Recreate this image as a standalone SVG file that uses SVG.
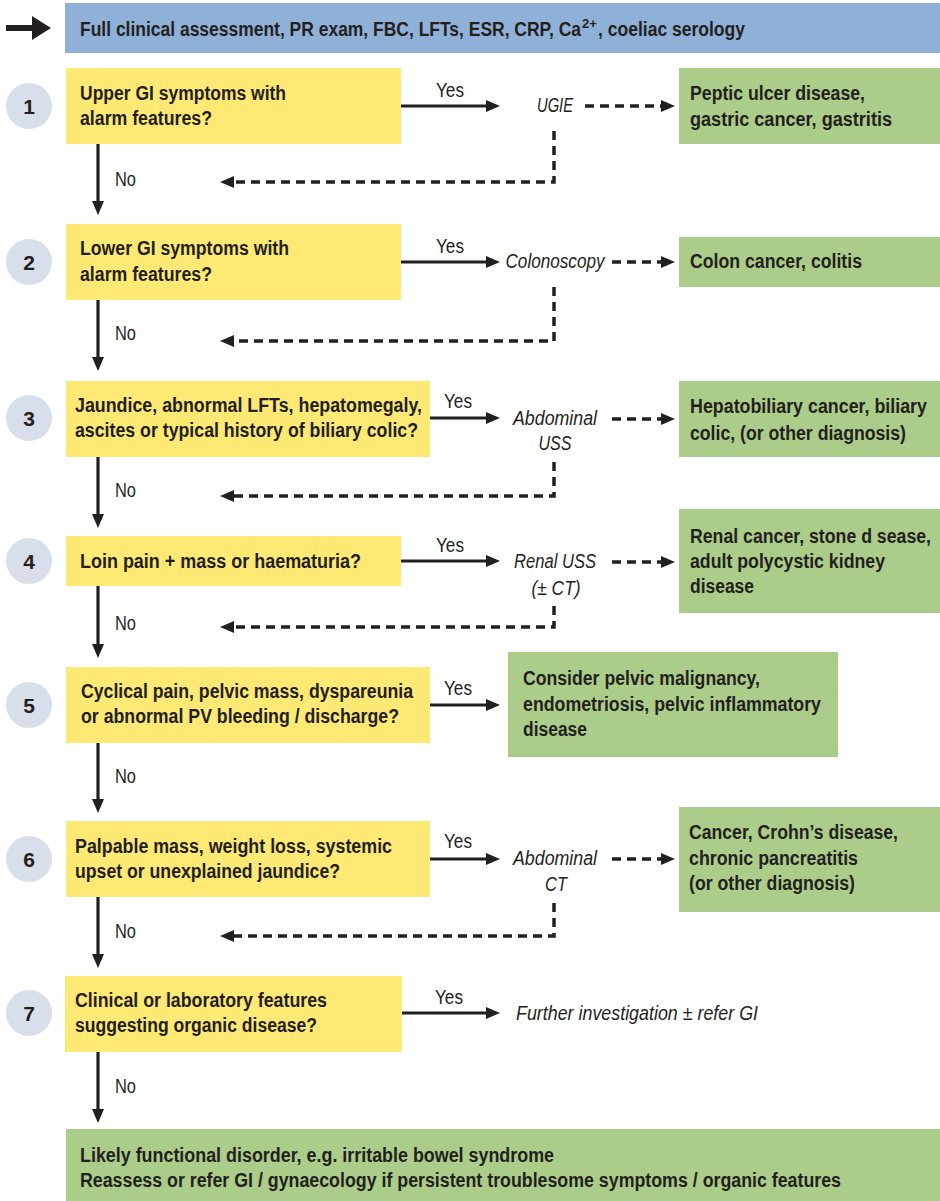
<svg xmlns="http://www.w3.org/2000/svg" width="940" height="1201" viewBox="0 0 940 1201">
<style>
.t{font-family:"Liberation Sans",Arial,sans-serif;font-size:20px;fill:#231f20}
.b{font-weight:bold}
.i{font-style:italic}
.m{text-anchor:middle}
.sup{font-family:"Liberation Sans",Arial,sans-serif;font-weight:bold;font-size:13px;fill:#231f20}
.num{font-family:"Liberation Sans",Arial,sans-serif;font-weight:bold;font-size:21px;fill:#231f20;text-anchor:middle}
.q{fill:#fee975}
.g{fill:#abcd89}
.c{fill:#d8dfeb}
.ln{fill:none;stroke:#231f20;stroke-width:3.2}
.ds{fill:none;stroke:#231f20;stroke-width:3.5;stroke-dasharray:9 6}
</style>
<defs>
<marker id="ah" markerUnits="userSpaceOnUse" markerWidth="14" markerHeight="14" viewBox="0 0 14 14" refX="6" refY="7" orient="auto">
<path d="M0,1 L14,7 L0,13 z" fill="#231f20"/>
</marker>
</defs>
<g id="start">
<rect x="65" y="3" width="875" height="50" fill="#8fb1d8"/>
<path d="M6,25 H32 V16 L51,28 L32,40 V31 H6 z" fill="#231f20"/>
<text class="t b" x="80" y="36" textLength="501" lengthAdjust="spacingAndGlyphs">Full clinical assessment, PR exam, FBC, LFTs, ESR, CRP, Ca</text>
<text class="sup" x="582" y="28" textLength="15" lengthAdjust="spacingAndGlyphs">2+</text>
<text class="t b" x="598" y="36" textLength="147" lengthAdjust="spacingAndGlyphs">, coeliac serology</text>
</g>
<g id="q1">
<circle class="c" cx="29" cy="106" r="23"/><text class="num" x="29" y="114">1</text>
<rect class="q" x="66" y="68" width="335" height="76"/>
<text class="t b" x="80" y="100" textLength="206" lengthAdjust="spacingAndGlyphs">Upper GI symptoms with</text>
<text class="t b" x="80" y="125" textLength="132" lengthAdjust="spacingAndGlyphs">alarm features?</text>
</g>
<g id="r1">
<rect class="g" x="679" y="68" width="261" height="76"/>
<text class="t b" x="690" y="100" textLength="175" lengthAdjust="spacingAndGlyphs">Peptic ulcer disease,</text>
<text class="t b" x="690" y="126" textLength="202" lengthAdjust="spacingAndGlyphs">gastric cancer, gastritis</text>
</g>
<g id="q2">
<circle class="c" cx="29" cy="262" r="23"/><text class="num" x="29" y="270">2</text>
<rect class="q" x="66" y="224" width="335" height="76"/>
<text class="t b" x="80" y="255" textLength="209" lengthAdjust="spacingAndGlyphs">Lower GI symptoms with</text>
<text class="t b" x="80" y="281" textLength="132" lengthAdjust="spacingAndGlyphs">alarm features?</text>
</g>
<g id="r2">
<rect class="g" x="679" y="237" width="261" height="50"/>
<text class="t b" x="690" y="268" textLength="172" lengthAdjust="spacingAndGlyphs">Colon cancer, colitis</text>
</g>
<g id="q3">
<circle class="c" cx="29" cy="418" r="23"/><text class="num" x="29" y="426">3</text>
<rect class="q" x="66" y="381" width="364" height="76"/>
<text class="t b" x="75" y="412" textLength="347" lengthAdjust="spacingAndGlyphs">Jaundice, abnormal LFTs, hepatomegaly,</text>
<text class="t b" x="75" y="437" textLength="343" lengthAdjust="spacingAndGlyphs">ascites or typical history of biliary colic?</text>
</g>
<g id="r3">
<rect class="g" x="679" y="381" width="261" height="76"/>
<text class="t b" x="690" y="413" textLength="237" lengthAdjust="spacingAndGlyphs">Hepatobiliary cancer, biliary</text>
<text class="t b" x="690" y="440" textLength="216" lengthAdjust="spacingAndGlyphs">colic, (or other diagnosis)</text>
</g>
<g id="q4">
<circle class="c" cx="29" cy="561" r="23"/><text class="num" x="29" y="569">4</text>
<rect class="q" x="66" y="536" width="335" height="50"/>
<text class="t b" x="80" y="568" textLength="281" lengthAdjust="spacingAndGlyphs">Loin pain + mass or haematuria?</text>
</g>
<g id="r4">
<rect class="g" x="679" y="509" width="261" height="104"/>
<text class="t b" x="690" y="543" textLength="241" lengthAdjust="spacingAndGlyphs">Renal cancer, stone d sease,</text>
<text class="t b" x="690" y="568" textLength="195" lengthAdjust="spacingAndGlyphs">adult polycystic kidney</text>
<text class="t b" x="690" y="593" textLength="64" lengthAdjust="spacingAndGlyphs">disease</text>
</g>
<g id="q5">
<circle class="c" cx="29" cy="705" r="23"/><text class="num" x="29" y="713">5</text>
<rect class="q" x="66" y="667" width="364" height="76"/>
<text class="t b" x="81" y="698" textLength="332" lengthAdjust="spacingAndGlyphs">Cyclical pain, pelvic mass, dyspareunia</text>
<text class="t b" x="81" y="723" textLength="318" lengthAdjust="spacingAndGlyphs">or abnormal PV bleeding / discharge?</text>
</g>
<g id="r5">
<rect class="g" x="508" y="652" width="330" height="105"/>
<text class="t b" x="523" y="685" textLength="237" lengthAdjust="spacingAndGlyphs">Consider pelvic malignancy,</text>
<text class="t b" x="523" y="711" textLength="298" lengthAdjust="spacingAndGlyphs">endometriosis, pelvic inflammatory</text>
<text class="t b" x="523" y="736" textLength="64" lengthAdjust="spacingAndGlyphs">disease</text>
</g>
<g id="q6">
<circle class="c" cx="29" cy="859" r="23"/><text class="num" x="29" y="867">6</text>
<rect class="q" x="66" y="821" width="364" height="76"/>
<text class="t b" x="75" y="853" textLength="317" lengthAdjust="spacingAndGlyphs">Palpable mass, weight loss, systemic</text>
<text class="t b" x="75" y="878" textLength="265" lengthAdjust="spacingAndGlyphs">upset or unexplained jaundice?</text>
</g>
<g id="r6">
<rect class="g" x="679" y="807" width="261" height="105"/>
<text class="t b" x="689" y="839" textLength="209" lengthAdjust="spacingAndGlyphs">Cancer, Crohn’s disease,</text>
<text class="t b" x="689" y="865" textLength="169" lengthAdjust="spacingAndGlyphs">chronic pancreatitis</text>
<text class="t b" x="689" y="890" textLength="166" lengthAdjust="spacingAndGlyphs">(or other diagnosis)</text>
</g>
<g id="q7">
<circle class="c" cx="29" cy="1013" r="23"/><text class="num" x="29" y="1021">7</text>
<rect class="q" x="65" y="976" width="337" height="76"/>
<text class="t b" x="75" y="1007" textLength="252" lengthAdjust="spacingAndGlyphs">Clinical or laboratory features</text>
<text class="t b" x="75" y="1032" textLength="242" lengthAdjust="spacingAndGlyphs">suggesting organic disease?</text>
</g>
<g id="end">
<rect class="g" x="66" y="1129" width="874" height="72"/>
<text class="t b" x="80" y="1162" textLength="474" lengthAdjust="spacingAndGlyphs">Likely functional disorder, e.g. irritable bowel syndrome</text>
<text class="t b" x="80" y="1187" textLength="761" lengthAdjust="spacingAndGlyphs">Reassess or refer GI / gynaecology if persistent troublesome symptoms / organic features</text>
</g>
<g id="tests">
<text class="t i m" x="555" y="112" textLength="36" lengthAdjust="spacingAndGlyphs">UGIE</text>
<text class="t i m" x="555" y="268" textLength="99" lengthAdjust="spacingAndGlyphs">Colonoscopy</text>
<text class="t i m" x="555" y="425" textLength="84" lengthAdjust="spacingAndGlyphs">Abdominal</text>
<text class="t i m" x="555" y="450" textLength="33" lengthAdjust="spacingAndGlyphs">USS</text>
<text class="t i m" x="555" y="568" textLength="82" lengthAdjust="spacingAndGlyphs">Renal USS</text>
<text class="t i m" x="556" y="595" textLength="49" lengthAdjust="spacingAndGlyphs">(± CT)</text>
<text class="t i m" x="555" y="865" textLength="84" lengthAdjust="spacingAndGlyphs">Abdominal</text>
<text class="t i m" x="556" y="891" textLength="22" lengthAdjust="spacingAndGlyphs">CT</text>
<text class="t i" x="516" y="1020" textLength="242" lengthAdjust="spacingAndGlyphs">Further investigation ± refer GI</text>
</g>
<g id="connectors">
<path class="ln" d="M98,144 V207" marker-end="url(#ah)"/>
<path class="ln" d="M98,300 V363" marker-end="url(#ah)"/>
<path class="ln" d="M98,457 V520" marker-end="url(#ah)"/>
<path class="ln" d="M98,586 V650" marker-end="url(#ah)"/>
<path class="ln" d="M98,743 V805" marker-end="url(#ah)"/>
<path class="ln" d="M98,897 V960" marker-end="url(#ah)"/>
<path class="ln" d="M98,1052 V1115" marker-end="url(#ah)"/>
<path class="ln" d="M401,106 H492" marker-end="url(#ah)"/>
<path class="ln" d="M401,262 H492" marker-end="url(#ah)"/>
<path class="ln" d="M430,418 H492" marker-end="url(#ah)"/>
<path class="ln" d="M401,561 H492" marker-end="url(#ah)"/>
<path class="ln" d="M430,705 H492" marker-end="url(#ah)"/>
<path class="ln" d="M430,859 H492" marker-end="url(#ah)"/>
<path class="ln" d="M402,1013 H492" marker-end="url(#ah)"/>
<path class="ds" d="M585,106 H667" marker-end="url(#ah)"/>
<path class="ds" d="M612,262 H667" marker-end="url(#ah)"/>
<path class="ds" d="M612,419 H667" marker-end="url(#ah)"/>
<path class="ds" d="M612,562 H667" marker-end="url(#ah)"/>
<path class="ds" d="M612,859 H667" marker-end="url(#ah)"/>
<path class="ds" d="M554,131 V182 H228" marker-end="url(#ah)"/>
<path class="ds" d="M554,287 V341 H228" marker-end="url(#ah)"/>
<path class="ds" d="M554,462 V496 H228" marker-end="url(#ah)"/>
<path class="ds" d="M554,606 V627 H228" marker-end="url(#ah)"/>
<path class="ds" d="M554,903 V936 H228" marker-end="url(#ah)"/>
<text class="t m" x="450" y="97" textLength="28" lengthAdjust="spacingAndGlyphs">Yes</text>
<text class="t m" x="450" y="253" textLength="28" lengthAdjust="spacingAndGlyphs">Yes</text>
<text class="t m" x="458" y="408" textLength="28" lengthAdjust="spacingAndGlyphs">Yes</text>
<text class="t m" x="450" y="552" textLength="28" lengthAdjust="spacingAndGlyphs">Yes</text>
<text class="t m" x="458" y="695" textLength="28" lengthAdjust="spacingAndGlyphs">Yes</text>
<text class="t m" x="458" y="848" textLength="28" lengthAdjust="spacingAndGlyphs">Yes</text>
<text class="t m" x="449" y="1004" textLength="28" lengthAdjust="spacingAndGlyphs">Yes</text>
<text class="t" x="115" y="186" textLength="21" lengthAdjust="spacingAndGlyphs">No</text>
<text class="t" x="115" y="340" textLength="21" lengthAdjust="spacingAndGlyphs">No</text>
<text class="t" x="115" y="497" textLength="21" lengthAdjust="spacingAndGlyphs">No</text>
<text class="t" x="115" y="630" textLength="21" lengthAdjust="spacingAndGlyphs">No</text>
<text class="t" x="115" y="783" textLength="21" lengthAdjust="spacingAndGlyphs">No</text>
<text class="t" x="115" y="938" textLength="21" lengthAdjust="spacingAndGlyphs">No</text>
<text class="t" x="115" y="1093" textLength="21" lengthAdjust="spacingAndGlyphs">No</text>
</g>
</svg>
